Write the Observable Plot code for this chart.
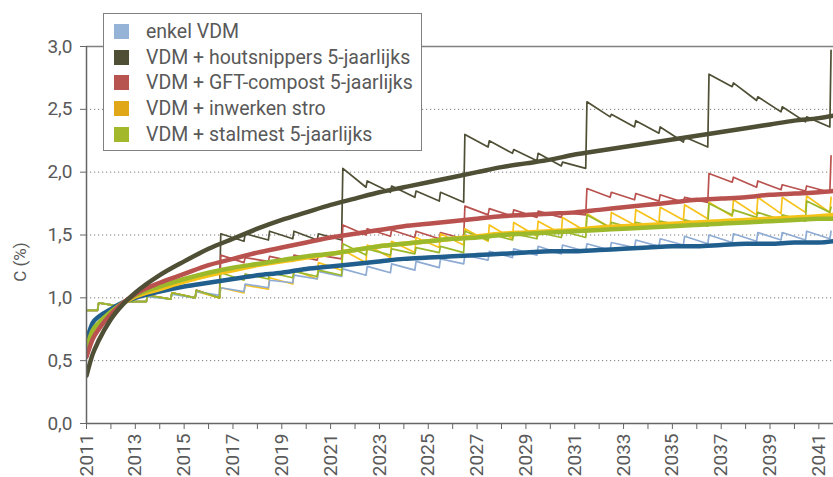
<!DOCTYPE html>
<html>
<head>
<meta charset="utf-8">
<script src="https://cdn.jsdelivr.net/npm/d3@7"></script>
<script src="https://cdn.jsdelivr.net/npm/@observablehq/plot@0.6"></script>
<style>
  html, body { margin: 0; padding: 0; background: #fff; }
  #wrap { position: relative; width: 833px; height: 477px; overflow: hidden; font-family: Roboto, "Noto Sans", sans-serif; }
  #legend { position: absolute; left: 103px; top: 13px; width: 319px; height: 138px; border: 1.5px solid #808080; background: #fff; box-sizing: border-box; padding-top: 5px; }
  .item { height: 25.6px; display: flex; align-items: center; font-size: 19.5px; color: #595959; white-space: nowrap; }
  .sw { width: 15px; height: 15px; margin-left: 10px; margin-right: 17px; flex: none; }
  #ylabel { position: absolute; left: 20px; top: 262px; transform: translate(-50%, -50%) rotate(-90deg); font-size: 17px; color: #595959; white-space: nowrap; }
</style>
</head>
<body>
<div id="wrap"><div id="legend"></div><div id="ylabel"></div></div>
<script>
// ---- data ----
const seriesNames = ["enkel VDM", "VDM + houtsnippers 5-jaarlijks", "VDM + GFT-compost 5-jaarlijks", "VDM + inwerken stro", "VDM + stalmest 5-jaarlijks"];
const yLabel = "C (%)";
const legendColors = ["#95b3d7", "#4f4f35", "#b85450", "#e0a818", "#a4b82c"];
const thinColors = ["#8eabd4", "#4f4f35", "#b9524e", "#f7c21a", "#9bb82a"];
const thickColors = ["#205e8e", "#4f4f35", "#b9524e", "#f5c218", "#9cb92c"];

const years = d3.range(2011, 2042); // 2011..2041

// thin (monthly model) lines: value just before and just after the mid-year input
const blueTrough = [0.90,0.93,0.97,0.99,1.00,1.02,1.05,1.08,1.12,1.15,1.17,1.18,1.20,1.22,1.24,1.27,1.30,1.32,1.34,1.35,1.37,1.38,1.40,1.41,1.42,1.43,1.44,1.45,1.46,1.46,1.47];
const bluePeak   = [0.96,0.97,1.01,1.03,1.05,1.08,1.11,1.14,1.18,1.21,1.23,1.25,1.27,1.29,1.31,1.34,1.37,1.39,1.41,1.42,1.43,1.44,1.46,1.47,1.49,1.50,1.51,1.52,1.52,1.53,1.53];
const houtTrough = [0.90,0.93,0.97,0.99,1.00,1.00,1.45,1.46,1.47,1.46,1.46,1.88,1.84,1.80,1.77,1.76,2.20,2.15,2.09,2.05,2.03,2.44,2.36,2.31,2.24,2.20,2.68,2.57,2.48,2.40,2.36];
const houtPeak   = [0.96,0.97,1.02,1.04,1.06,1.51,1.51,1.53,1.53,1.51,2.03,1.93,1.89,1.85,1.84,2.30,2.25,2.18,2.15,2.08,2.56,2.46,2.41,2.36,2.28,2.78,2.71,2.60,2.52,2.44,2.97];
const gftTrough  = [0.90,0.93,0.97,0.99,1.00,1.00,1.28,1.29,1.29,1.30,1.31,1.50,1.49,1.48,1.47,1.47,1.66,1.65,1.64,1.64,1.66,1.80,1.78,1.77,1.76,1.76,1.92,1.88,1.86,1.85,1.84];
const gftPeak    = [0.96,0.97,1.02,1.04,1.06,1.34,1.32,1.33,1.34,1.34,1.58,1.55,1.54,1.53,1.52,1.73,1.71,1.70,1.69,1.68,1.87,1.84,1.83,1.82,1.80,1.99,1.96,1.93,1.90,1.89,2.13];
const stroTrough = [0.90,0.93,0.97,0.99,1.00,1.00,1.04,1.07,1.11,1.15,1.22,1.28,1.32,1.36,1.40,1.42,1.45,1.47,1.49,1.51,1.53,1.56,1.58,1.60,1.62,1.63,1.65,1.66,1.67,1.68,1.68];
const stroPeak   = [0.96,0.97,1.02,1.04,1.05,1.08,1.10,1.16,1.22,1.28,1.38,1.42,1.45,1.48,1.51,1.55,1.58,1.60,1.61,1.64,1.67,1.68,1.70,1.72,1.74,1.76,1.78,1.80,1.80,1.81,1.80];
const stalTrough = [0.90,0.93,0.97,0.99,1.00,1.00,1.14,1.15,1.16,1.17,1.18,1.34,1.34,1.35,1.36,1.36,1.46,1.46,1.47,1.48,1.48,1.56,1.55,1.56,1.57,1.57,1.66,1.64,1.62,1.61,1.68];
const stalPeak   = [0.96,0.97,1.02,1.04,1.06,1.20,1.19,1.20,1.21,1.22,1.43,1.39,1.39,1.40,1.41,1.53,1.51,1.51,1.52,1.53,1.66,1.60,1.60,1.61,1.62,1.75,1.70,1.68,1.66,1.77,1.72];

// thick trend lines
const trendYears = [2011,2011.25,2011.5,2012,2012.5,2013,2014,2015,2016,2017,2018,2019,2020,2021,2022,2023,2024,2025,2026,2027,2028,2029,2030,2031,2032,2033,2034,2035,2036,2037,2038,2039,2040,2041,2041.6];
const blueTrend  = [0.66,0.80,0.85,0.91,0.965,1.00,1.05,1.09,1.12,1.15,1.18,1.20,1.23,1.25,1.27,1.29,1.31,1.32,1.33,1.34,1.35,1.36,1.37,1.37,1.38,1.39,1.40,1.41,1.41,1.42,1.43,1.43,1.44,1.44,1.45];
const houtTrend  = [0.38,0.55,0.66,0.83,0.95,1.04,1.18,1.29,1.39,1.47,1.55,1.62,1.68,1.74,1.79,1.84,1.88,1.92,1.96,2.00,2.04,2.07,2.10,2.14,2.17,2.20,2.23,2.26,2.29,2.32,2.35,2.38,2.41,2.43,2.45];
const gftTrend   = [0.53,0.67,0.75,0.87,0.96,1.03,1.12,1.19,1.26,1.31,1.36,1.40,1.44,1.48,1.51,1.54,1.57,1.59,1.61,1.63,1.65,1.66,1.67,1.68,1.70,1.72,1.74,1.76,1.78,1.79,1.80,1.82,1.83,1.84,1.85];
const stroTrend  = [0.57,0.71,0.78,0.88,0.955,1.01,1.07,1.13,1.18,1.22,1.26,1.29,1.32,1.35,1.38,1.41,1.43,1.45,1.47,1.49,1.51,1.52,1.53,1.54,1.56,1.57,1.58,1.59,1.60,1.61,1.62,1.63,1.64,1.65,1.66];
const stalTrend  = [0.60,0.74,0.80,0.89,0.96,1.02,1.09,1.15,1.20,1.24,1.27,1.30,1.33,1.35,1.38,1.41,1.43,1.45,1.47,1.48,1.50,1.51,1.52,1.53,1.54,1.55,1.56,1.57,1.58,1.59,1.60,1.61,1.62,1.63,1.63];

const yTicks = [0, 0.5, 1, 1.5, 2, 2.5, 3];
const gridTicks = [0.5, 1, 1.5, 2, 2.5];

// ---- build tables ----
const thinSets = [[blueTrough, bluePeak], [houtTrough, houtPeak], [gftTrough, gftPeak], [stroTrough, stroPeak], [stalTrough, stalPeak]];
const trendSets = [blueTrend, houtTrend, gftTrend, stroTrend, stalTrend];

function thinRows(k) {
  const [tr, pk] = thinSets[k];
  const rows = [{t: years[0], v: tr[0], s: k}];
  years.forEach((y, i) => {
    rows.push({t: y + 0.45, v: tr[i], s: k});
    rows.push({t: y + 0.5, v: pk[i], s: k});
  });
  return rows;
}
function trendRows(k) {
  return trendYears.map((t, i) => ({t, v: trendSets[k][i], s: k}));
}

// draw order: thin lines first (green ends on top where they coincide), then thick
const thinOrder = [1, 2, 3, 0, 4];
const thickOrder = [0, 3, 4, 2, 1];

const marks = [
  Plot.ruleY(gridTicks, {stroke: "#7a7a7a", strokeWidth: 1, strokeDasharray: "1.2,2.8"}),
  Plot.ruleY([3], {stroke: "#808080", strokeWidth: 1.5}),
];
thinOrder.forEach(k => marks.push(Plot.line(thinRows(k), {x: "t", y: "v", stroke: thinColors[k], strokeWidth: 1.7, clip: true})));
thickOrder.forEach(k => marks.push(Plot.line(trendRows(k), {x: "t", y: "v", stroke: thickColors[k], strokeWidth: 4.5, curve: "monotone-x", clip: true})));
marks.push(
  Plot.ruleY([0], {stroke: "#666", strokeWidth: 1.5}),
  Plot.ruleX([2011], {stroke: "#666", strokeWidth: 1.5}),
  Plot.axisY({ticks: yTicks, tickFormat: d => d.toFixed(1).replace(".", ","), tickSize: 6, tickPadding: 8, stroke: "#666", label: null, fontSize: 19}),
  Plot.axisX({ticks: years, tickFormat: d => (d % 2 === 1 ? String(d) : ""), tickRotate: -90, tickSize: 6, tickPadding: 4, stroke: "#666", label: null, fontSize: 19})
);

const chart = Plot.plot({
  width: 833,
  height: 477,
  marginLeft: 86,
  marginRight: 0,
  marginTop: 46,
  marginBottom: 54,
  x: {domain: [2011, 2041.6]},
  y: {domain: [0, 3]},
  style: {fontFamily: "Roboto, 'Noto Sans', sans-serif", color: "#595959", background: "#fff", overflow: "visible"},
  marks
});
const wrap = document.getElementById("wrap");
wrap.insertBefore(chart, wrap.firstChild);
document.getElementById("ylabel").textContent = yLabel;

const legend = document.getElementById("legend");
seriesNames.forEach((name, k) => {
  const it = document.createElement("div");
  it.className = "item";
  const sw = document.createElement("span");
  sw.className = "sw";
  sw.style.background = legendColors[k];
  const tx = document.createElement("span");
  tx.textContent = name;
  it.appendChild(sw);
  it.appendChild(tx);
  legend.appendChild(it);
});
</script>
</body>
</html>
